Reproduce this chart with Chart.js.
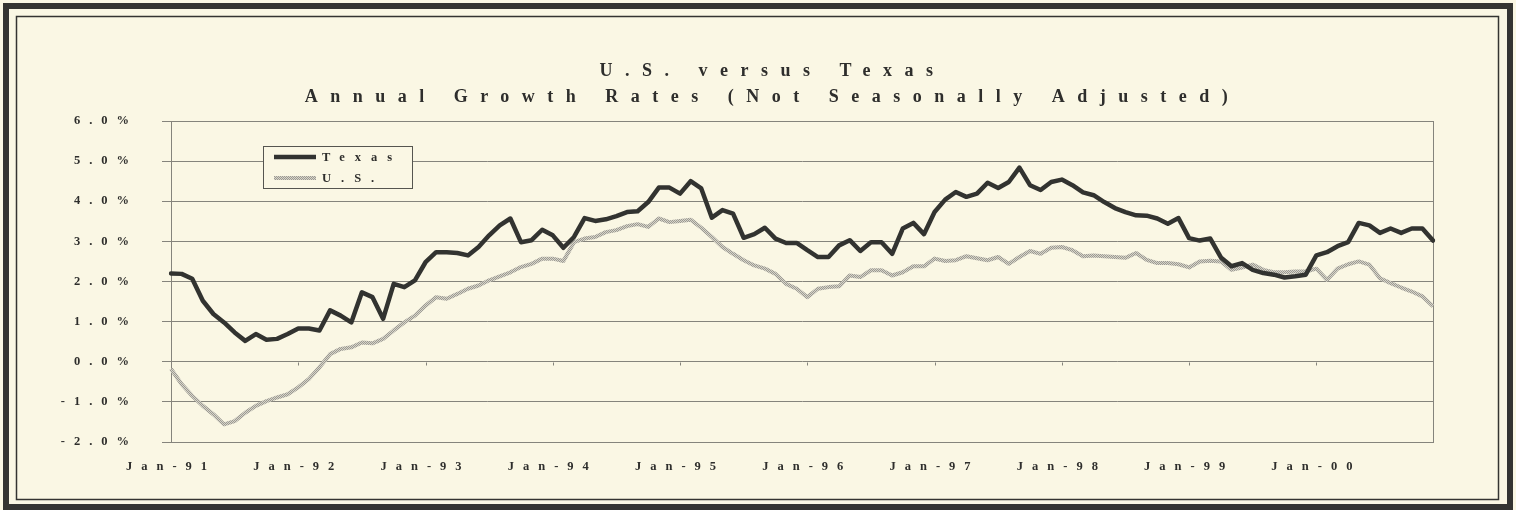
<!DOCTYPE html>
<html>
<head>
<meta charset="utf-8">
<script src="https://cdn.jsdelivr.net/npm/chart.js@4.4.0/dist/chart.umd.min.js"></script>
<style>
  html, body { margin: 0; padding: 0; background: #faf7e4; }
  #wrap { width: 1516px; height: 510px; }
</style>
</head>
<body>
<div id="wrap"><canvas id="growthChart" width="1516" height="510"></canvas></div>
<script>
const months = ["Jan", "Feb", "Mar", "Apr", "May", "Jun", "Jul", "Aug", "Sep", "Oct", "Nov", "Dec"];
const years = ["91", "92", "93", "94", "95", "96", "97", "98", "99", "00"];

// annual growth, percent, Jan-91 .. Dec-00
const texasRates = [
  2.20, 2.19, 2.07, 1.52, 1.19, 0.98, 0.73, 0.52, 0.69, 0.55, 0.57, 0.69,
  0.83, 0.83, 0.78, 1.28, 1.15, 0.98, 1.73, 1.61, 1.07, 1.94, 1.86, 2.03,
  2.48, 2.73, 2.73, 2.71, 2.65, 2.86, 3.15, 3.40, 3.57, 2.98, 3.03, 3.29,
  3.15, 2.84, 3.11, 3.58, 3.51, 3.55, 3.63, 3.73, 3.75, 3.98, 4.34, 4.34,
  4.19, 4.50, 4.32, 3.59, 3.78, 3.69, 3.09, 3.18, 3.34, 3.07, 2.96, 2.96,
  2.78, 2.61, 2.61, 2.90, 3.03, 2.76, 2.98, 2.98, 2.69, 3.32, 3.46, 3.18,
  3.73, 4.04, 4.23, 4.11, 4.19, 4.46, 4.33, 4.48, 4.84, 4.40, 4.28, 4.48,
  4.54, 4.40, 4.22, 4.15, 3.98, 3.83, 3.73, 3.65, 3.64, 3.57, 3.44, 3.58,
  3.08, 3.02, 3.07, 2.60, 2.38, 2.46, 2.29, 2.21, 2.17, 2.10, 2.13, 2.17,
  2.65, 2.73, 2.88, 2.98, 3.46, 3.40, 3.21, 3.32, 3.21, 3.32, 3.32, 3.02
];
const usRates = [
  -0.18, -0.56, -0.85, -1.10, -1.31, -1.56, -1.48, -1.27, -1.10, -0.98, -0.89, -0.81,
  -0.64, -0.43, -0.14, 0.19, 0.32, 0.36, 0.48, 0.46, 0.57, 0.78, 0.98, 1.15,
  1.40, 1.61, 1.57, 1.69, 1.82, 1.90, 2.03, 2.13, 2.23, 2.36, 2.44, 2.57,
  2.57, 2.51, 2.98, 3.07, 3.11, 3.23, 3.28, 3.38, 3.43, 3.36, 3.57, 3.48,
  3.51, 3.54, 3.34, 3.11, 2.86, 2.69, 2.53, 2.40, 2.32, 2.19, 1.94, 1.82,
  1.61, 1.82, 1.86, 1.88, 2.15, 2.11, 2.28, 2.28, 2.15, 2.23, 2.38, 2.38,
  2.57, 2.51, 2.53, 2.63, 2.58, 2.53, 2.61, 2.44, 2.61, 2.76, 2.69, 2.84,
  2.86, 2.78, 2.63, 2.65, 2.63, 2.61, 2.59, 2.71, 2.54, 2.46, 2.46, 2.43,
  2.35, 2.50, 2.52, 2.50, 2.29, 2.35, 2.42, 2.29, 2.23, 2.23, 2.25, 2.25,
  2.32, 2.04, 2.32, 2.43, 2.50, 2.42, 2.08, 1.96, 1.85, 1.75, 1.63, 1.38
];

const titleLines = ["U.S. versus Texas", "Annual Growth Rates (Not Seasonally Adjusted)"];
const seriesNames = ["Texas", "U.S."];

const monthLabels = [];
years.forEach((yr) => months.forEach((m) => monthLabels.push(m + "-" + yr)));

const serif = "'Liberation Serif', 'Times New Roman', serif";
const inkColor = "#2e2e2c";
const paperColor = "#faf7e4";
const gridColor = "#85847c";

// speckled grey, like the old patterned line for the U.S. series
const makeHatch = () => {
  const c = document.createElement("canvas");
  c.width = 2;
  c.height = 2;
  const g = c.getContext("2d");
  g.fillStyle = "#d6d4ca";
  g.fillRect(0, 0, 2, 2);
  g.fillStyle = "#9c9a91";
  g.fillRect(0, 0, 1, 1);
  g.fillRect(1, 1, 1, 1);
  return document.getElementById("growthChart").getContext("2d").createPattern(c, "repeat");
};

const pagePlugin = {
  id: "page",
  beforeLayout(chart) {
    chart.ctx.letterSpacing = "9px";
  },
  afterLayout(chart) {
    // title gets its own wider spacing and is centred over the page, not the plot
    const t = chart.titleBlock;
    if (t && !t._spaced) {
      const draw = t.draw.bind(t);
      t.draw = function () {
        chart.ctx.save();
        chart.ctx.letterSpacing = "12.5px";
        chart.ctx.translate(56, 1);
        draw();
        chart.ctx.restore();
      };
      t._spaced = true;
    }
  },
  beforeDraw(chart) {
    const { ctx, width, height } = chart;
    ctx.save();
    ctx.fillStyle = paperColor;
    ctx.fillRect(0, 0, width, height);
    ctx.strokeStyle = "#343432";
    ctx.lineWidth = 6;
    ctx.strokeRect(6, 6, width - 12, height - 9);
    ctx.lineWidth = 1.5;
    ctx.strokeRect(16.5, 16.5, width - 34, height - 27);
    ctx.restore();
    ctx.letterSpacing = "9px";
  },
  beforeDatasetsDraw(chart) {
    const { ctx, chartArea, scales } = chart;
    ctx.save();
    ctx.strokeStyle = gridColor;
    ctx.lineWidth = 1;
    ctx.strokeRect(chartArea.left + 0.5, chartArea.top + 0.5, chartArea.width, chartArea.height);
    // small year ticks on the zero line
    const y0 = Math.round(scales.y.getPixelForValue(0)) + 0.5;
    ctx.beginPath();
    monthLabels.forEach((lab, i) => {
      if (i % 12 === 0 && i > 0) {
        const x = Math.round(scales.x.getPixelForValue(i)) + 0.5;
        ctx.moveTo(x, y0);
        ctx.lineTo(x, y0 + 3);
      }
    });
    ctx.stroke();
    ctx.restore();
  },
  afterDraw(chart) {
    // legend box inside the plot
    const { ctx, chartArea } = chart;
    const bx = chartArea.left + 92;
    const by = chartArea.top + 25;
    ctx.save();
    ctx.fillStyle = paperColor;
    ctx.fillRect(bx, by, 149, 42);
    ctx.strokeStyle = "#55554f";
    ctx.lineWidth = 1;
    ctx.strokeRect(bx + 0.5, by + 0.5, 149, 42);
    ctx.font = "bold 12.5px " + serif;
    ctx.letterSpacing = "10px";
    ctx.textBaseline = "middle";
    ctx.textAlign = "left";
    chart.data.datasets.forEach((ds, i) => {
      const ly = by + 11 + i * 21;
      ctx.strokeStyle = ds.borderColor;
      ctx.lineWidth = ds.borderWidth;
      ctx.beginPath();
      ctx.moveTo(bx + 11, ly);
      ctx.lineTo(bx + 53, ly);
      ctx.stroke();
      ctx.fillStyle = inkColor;
      ctx.fillText(ds.label, bx + 59, ly + 1);
    });
    ctx.restore();
  }
};

new Chart(document.getElementById("growthChart"), {
  type: "line",
  data: {
    labels: monthLabels,
    datasets: [
      {
        label: seriesNames[0],
        data: texasRates,
        borderColor: "#323330",
        borderWidth: 4.5,
        pointRadius: 0,
        tension: 0,
        borderJoinStyle: "round",
        borderCapStyle: "round",
        fill: false
      },
      {
        label: seriesNames[1],
        data: usRates,
        borderColor: makeHatch(),
        borderWidth: 4,
        pointRadius: 0,
        tension: 0,
        borderJoinStyle: "round",
        fill: false
      }
    ]
  },
  options: {
    responsive: false,
    devicePixelRatio: 1,
    animation: false,
    events: [],
    layout: { padding: { top: 57, left: 0, right: 83, bottom: 0 } },
    plugins: {
      legend: { display: false },
      tooltip: { enabled: false },
      title: {
        display: true,
        text: titleLines,
        color: inkColor,
        font: { family: serif, size: 18, weight: "bold", lineHeight: "26px" },
        padding: { top: 0, bottom: 12 }
      }
    },
    scales: {
      x: {
        type: "category",
        offset: false,
        grid: { display: false },
        border: { display: true, color: gridColor, width: 1 },
        ticks: {
          autoSkip: false,
          maxRotation: 0,
          minRotation: 0,
          padding: 9,
          color: inkColor,
          font: { family: serif, size: 12.5, weight: "bold" },
          callback: (v, i) => (i % 12 === 0 ? monthLabels[i] : "")
        },
        afterFit: (s) => { s.height = 68; }
      },
      y: {
        min: -2,
        max: 6,
        grid: { color: gridColor, tickColor: gridColor, tickLength: 9, lineWidth: 1 },
        border: { display: true, color: gridColor, width: 1 },
        ticks: {
          stepSize: 1,
          padding: 24,
          color: inkColor,
          font: { family: serif, size: 12.5, weight: "bold" },
          callback: (v) => v.toFixed(1) + "%"
        },
        afterFit: (s) => { s.width = 171; }
      }
    }
  },
  plugins: [pagePlugin]
});
</script>
</body>
</html>
